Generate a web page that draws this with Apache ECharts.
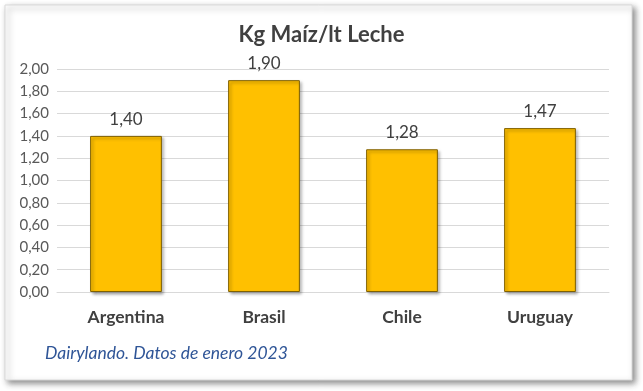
<!DOCTYPE html>
<html><head><meta charset="utf-8">
<script src="https://cdn.jsdelivr.net/npm/echarts@6/dist/echarts.min.js"></script>
<style>html,body{margin:0;padding:0;background:#fff;}#c{width:643px;height:391px;}</style>
</head><body><div id="c"></div>
<script>
const categories = ['Argentina', 'Brasil', 'Chile', 'Uruguay'];
const values = [1.40, 1.90, 1.28, 1.47];
const titleText = 'Kg Maíz/lt Leche';
const sourceText = 'Dairylando. Datos de enero 2023';

const chart = echarts.init(document.getElementById('c'));
const fmt = v => v.toFixed(2).replace('.', ',');
chart.setOption({
  animation: false,
  backgroundColor: '#ffffff',
  graphic: [
    { type: 'rect', z: -10, shape: { x: 5, y: 5, width: 627, height: 375 },
      style: { fill: '#fff', stroke: '#d9d9d9', lineWidth: 1, shadowBlur: 6, shadowOffsetX: 3, shadowOffsetY: 3, shadowColor: 'rgba(0,0,0,0.45)' } },
    { type: 'text', left: 45, top: 344,
      style: { text: sourceText, font: 'italic 17.5px Lato', fill: '#2F5597' } }
  ],
  title: {
    text: titleText, left: 'center', top: 19,
    textStyle: { fontFamily: 'Lato', fontSize: 22, fontWeight: 'bold', color: '#404040' }
  },
  grid: { left: 57, right: 34, top: 69, bottom: 99, containLabel: false },
  xAxis: {
    type: 'category', data: categories,
    axisLine: { show: true, lineStyle: { color: '#d9d9d9' } },
    axisTick: { show: false },
    axisLabel: { fontFamily: 'Lato', fontSize: 17.5, fontWeight: 'bold', color: '#404040', margin: 16 }
  },
  yAxis: {
    type: 'value', min: 0, max: 2, interval: 0.2,
    axisLine: { show: false }, axisTick: { show: false },
    splitLine: { lineStyle: { color: '#d9d9d9' } },
    axisLabel: { fontFamily: 'Lato', fontSize: 15, color: '#595959', margin: 8, formatter: fmt }
  },
  series: [{
    type: 'bar', data: values, barWidth: '52%',
    itemStyle: { color: '#FFC000', borderColor: '#7F6000', borderWidth: 1,
      shadowBlur: 3, shadowOffsetX: 2, shadowOffsetY: 2, shadowColor: 'rgba(0,0,0,0.35)' },
    label: { show: true, position: 'top', distance: 8, formatter: p => fmt(p.value),
      fontFamily: 'Lato', fontSize: 17, color: '#404040' }
  }]
});
</script></body></html>
